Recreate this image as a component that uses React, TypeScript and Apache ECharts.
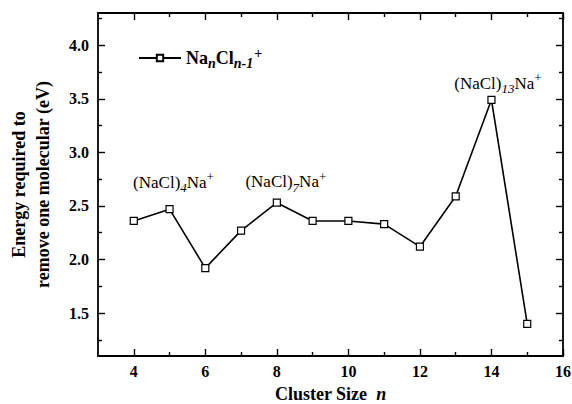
import React, { useEffect, useRef } from "react";
import * as echarts from "echarts";

const clusterSizes = [4, 5, 6, 7, 8, 9, 10, 11, 12, 13, 14, 15];
const energies = [2.36, 2.47, 1.92, 2.27, 2.53, 2.36, 2.36, 2.33, 2.12, 2.59, 3.49, 1.40];
const annotatedSizes = [5, 8, 14];
const annotationTexts = [
  "(NaCl){sub|4}Na{sup|+}",
  "(NaCl){sub|7}Na{sup|+}",
  "(NaCl){sub|13}Na{sup|+}",
];
const annotationOffsets = [[4, -11], [9, -5], [6.5, -0.5]];
const xMajorTicks = [4, 6, 8, 10, 12, 14, 16];
const xMinorTicks = [5, 7, 9, 11, 13, 15];
const yMajorTicks = [1.5, 2.0, 2.5, 3.0, 3.5, 4.0];
const yMinorTicks = [1.25, 1.75, 2.25, 2.75, 3.25, 3.75, 4.25];
const seriesName = "NanCln-1+";

const FONT = "'Liberation Serif', 'Times New Roman', serif";

export default function App() {
  const ref = useRef<HTMLDivElement>(null);
  useEffect(() => {
    if (!ref.current) return;
    const chart = echarts.init(ref.current, null, { renderer: "svg" });
    const axisLine = { show: true, lineStyle: { color: "#000", width: 1.8 } };
    const tickStyle = { color: "#000", width: 1.4 };
    const mkX = (pos: string, ticks: number[], len: number, labels: boolean, line: boolean, extra: any = {}) => ({
      type: "value",
      position: pos,
      min: 3,
      max: 16,
      axisLine: line ? axisLine : { show: false },
      splitLine: { show: false },
      axisTick: { show: true, inside: true, length: len, customValues: ticks, lineStyle: tickStyle },
      axisLabel: labels
        ? { show: true, customValues: ticks, color: "#000", fontFamily: FONT, fontWeight: "bold", fontSize: 16, margin: 7 }
        : { show: false },
      ...extra,
    });
    const mkY = (pos: string, ticks: number[], len: number, labels: boolean, line: boolean, extra: any = {}) => ({
      type: "value",
      position: pos,
      min: 1.1,
      max: 4.3,
      axisLine: line ? axisLine : { show: false },
      splitLine: { show: false },
      axisTick: { show: true, inside: true, length: len, customValues: ticks, lineStyle: tickStyle },
      axisLabel: labels
        ? {
            show: true,
            customValues: ticks,
            color: "#000",
            fontFamily: FONT,
            fontWeight: "bold",
            fontSize: 16,
            margin: 9,
            formatter: (v: number) => v.toFixed(1),
          }
        : { show: false },
      ...extra,
    });
    const data = clusterSizes.map((x, i) => {
      const k = annotatedSizes.indexOf(x);
      if (k < 0) return [x, energies[i]];
      return {
        value: [x, energies[i]],
        label: {
          show: true,
          position: "top",
          distance: 0,
          offset: annotationOffsets[k],
          formatter: annotationTexts[k],
          color: "#000",
          fontFamily: FONT,
          fontSize: 17,
          lineHeight: 24,
          rich: {
            sub: { fontFamily: FONT, fontSize: 13, fontStyle: "italic", verticalAlign: "bottom", lineHeight: 15, color: "#000" },
            sup: { fontFamily: FONT, fontSize: 13, verticalAlign: "top", lineHeight: 8, color: "#000" },
          },
        },
      };
    });
    chart.setOption({
      animation: false,
      backgroundColor: "#fff",
      grid: { left: 98, right: 9, top: 13, bottom: 48, outerBoundsMode: "none", containLabel: false },
      legend: {
        left: 133,
        top: 41,
        itemWidth: 42,
        itemHeight: 8,
        data: [seriesName],
        formatter: () => "Na{sub|n}Cl{sub|n-1}{sup|+}",
        textStyle: {
          fontFamily: FONT,
          fontWeight: "bold",
          fontSize: 18,
          color: "#000",
          lineHeight: 24,
          rich: {
            sub: { fontFamily: FONT, fontSize: 14, fontWeight: "bold", fontStyle: "italic", verticalAlign: "bottom", lineHeight: 13, color: "#000" },
            sup: { fontFamily: FONT, fontSize: 14, fontWeight: "bold", verticalAlign: "top", lineHeight: 10, color: "#000", padding: [0, 0, 0, 1] },
          },
        },
      },
      xAxis: [
        mkX("bottom", xMajorTicks, 7, true, true, {
          name: "Cluster Size  {it|n}",
          nameLocation: "middle",
          nameGap: 29,
          nameTextStyle: {
            fontFamily: FONT,
            fontWeight: "bold",
            fontSize: 18,
            lineHeight: 18,
            color: "#000",
            rich: { it: { fontFamily: FONT, fontWeight: "bold", fontStyle: "italic", fontSize: 18, lineHeight: 18, color: "#000" } },
          },
        }),
        mkX("bottom", xMinorTicks, 4, false, false),
        mkX("top", xMajorTicks, 7, false, true),
        mkX("top", xMinorTicks, 4, false, false),
      ],
      yAxis: [
        mkY("left", yMajorTicks, 7, true, true, {
          name: "Energy required to\nremove one molecular (eV)",
          nameLocation: "middle",
          nameRotate: 90,
          nameGap: 43,
          nameTextStyle: { fontFamily: FONT, fontWeight: "bold", fontSize: 18, color: "#000", lineHeight: 24 },
        }),
        mkY("left", yMinorTicks, 4, false, false),
        mkY("right", yMajorTicks, 7, false, true),
        mkY("right", yMinorTicks, 4, false, false),
      ],
      series: [
        {
          name: seriesName,
          type: "line",
          xAxisIndex: 0,
          yAxisIndex: 0,
          data,
          symbol: "rect",
          symbolSize: 7,
          lineStyle: { color: "#000", width: 1.6 },
          itemStyle: { color: "#fff", borderColor: "#000", borderWidth: 1.2 },
          emphasis: { disabled: true },
        },
      ],
    });
    return () => chart.dispose();
  }, []);
  return <div ref={ref} style={{ position: "fixed", left: 0, top: 0, width: 572, height: 404 }} />;
}
